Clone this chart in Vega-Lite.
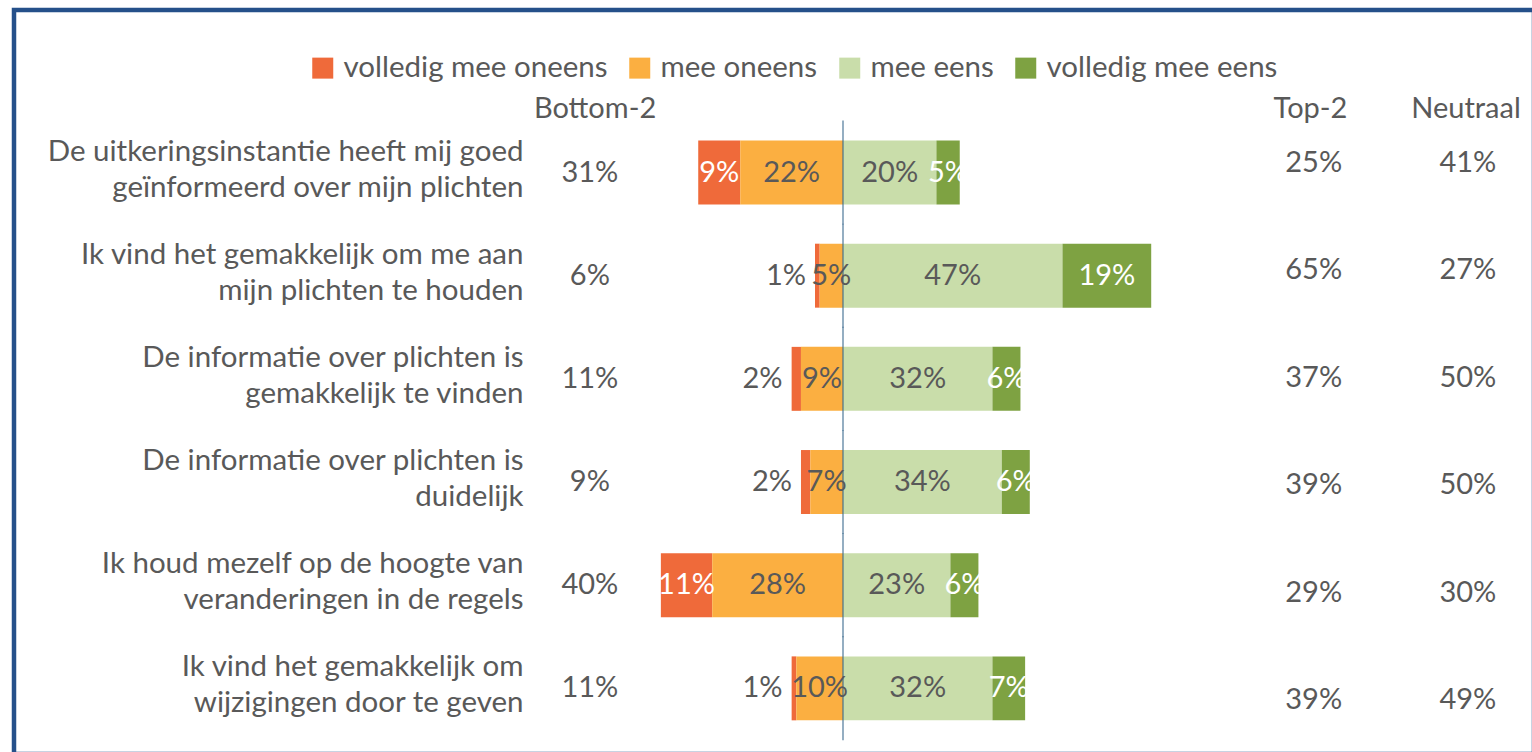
{
  "$schema": "https://vega.github.io/schema/vega-lite/v6.json",
  "autosize": "none",
  "padding": {"left": 14, "top": 10, "right": -2, "bottom": -2},
  "width": 1520,
  "height": 744,
  "background": "white",
  "config": {
    "font": "Lato",
    "view": {"stroke": "#25508A", "strokeWidth": 4.5},
    "axis": {"grid": false}
  },
  "datasets": {
    "bars": [
      {"question": "De uitkeringsinstantie heeft mij goed|geïnformeerd over mijn plichten", "cat": "volledig mee oneens", "pct": 0.09, "signed": -0.09},
      {"question": "De uitkeringsinstantie heeft mij goed|geïnformeerd over mijn plichten", "cat": "mee oneens", "pct": 0.22, "signed": -0.22},
      {"question": "De uitkeringsinstantie heeft mij goed|geïnformeerd over mijn plichten", "cat": "mee eens", "pct": 0.20, "signed": 0.20},
      {"question": "De uitkeringsinstantie heeft mij goed|geïnformeerd over mijn plichten", "cat": "volledig mee eens", "pct": 0.05, "signed": 0.05},
      {"question": "Ik vind het gemakkelijk om me aan|mijn plichten te houden", "cat": "volledig mee oneens", "pct": 0.01, "signed": -0.01},
      {"question": "Ik vind het gemakkelijk om me aan|mijn plichten te houden", "cat": "mee oneens", "pct": 0.05, "signed": -0.05},
      {"question": "Ik vind het gemakkelijk om me aan|mijn plichten te houden", "cat": "mee eens", "pct": 0.47, "signed": 0.47},
      {"question": "Ik vind het gemakkelijk om me aan|mijn plichten te houden", "cat": "volledig mee eens", "pct": 0.19, "signed": 0.19},
      {"question": "De informatie over plichten is|gemakkelijk te vinden", "cat": "volledig mee oneens", "pct": 0.02, "signed": -0.02},
      {"question": "De informatie over plichten is|gemakkelijk te vinden", "cat": "mee oneens", "pct": 0.09, "signed": -0.09},
      {"question": "De informatie over plichten is|gemakkelijk te vinden", "cat": "mee eens", "pct": 0.32, "signed": 0.32},
      {"question": "De informatie over plichten is|gemakkelijk te vinden", "cat": "volledig mee eens", "pct": 0.06, "signed": 0.06},
      {"question": "De informatie over plichten is|duidelijk", "cat": "volledig mee oneens", "pct": 0.02, "signed": -0.02},
      {"question": "De informatie over plichten is|duidelijk", "cat": "mee oneens", "pct": 0.07, "signed": -0.07},
      {"question": "De informatie over plichten is|duidelijk", "cat": "mee eens", "pct": 0.34, "signed": 0.34},
      {"question": "De informatie over plichten is|duidelijk", "cat": "volledig mee eens", "pct": 0.06, "signed": 0.06},
      {"question": "Ik houd mezelf op de hoogte van|veranderingen in de regels", "cat": "volledig mee oneens", "pct": 0.11, "signed": -0.11},
      {"question": "Ik houd mezelf op de hoogte van|veranderingen in de regels", "cat": "mee oneens", "pct": 0.28, "signed": -0.28},
      {"question": "Ik houd mezelf op de hoogte van|veranderingen in de regels", "cat": "mee eens", "pct": 0.23, "signed": 0.23},
      {"question": "Ik houd mezelf op de hoogte van|veranderingen in de regels", "cat": "volledig mee eens", "pct": 0.06, "signed": 0.06},
      {"question": "Ik vind het gemakkelijk om|wijzigingen door te geven", "cat": "volledig mee oneens", "pct": 0.01, "signed": -0.01},
      {"question": "Ik vind het gemakkelijk om|wijzigingen door te geven", "cat": "mee oneens", "pct": 0.10, "signed": -0.10},
      {"question": "Ik vind het gemakkelijk om|wijzigingen door te geven", "cat": "mee eens", "pct": 0.32, "signed": 0.32},
      {"question": "Ik vind het gemakkelijk om|wijzigingen door te geven", "cat": "volledig mee eens", "pct": 0.07, "signed": 0.07}
    ],
    "stats": [
      {"question": "De uitkeringsinstantie heeft mij goed|geïnformeerd over mijn plichten", "bottom2": 0.31, "top2": 0.25, "neutraal": 0.41},
      {"question": "Ik vind het gemakkelijk om me aan|mijn plichten te houden", "bottom2": 0.06, "top2": 0.65, "neutraal": 0.27},
      {"question": "De informatie over plichten is|gemakkelijk te vinden", "bottom2": 0.11, "top2": 0.37, "neutraal": 0.50},
      {"question": "De informatie over plichten is|duidelijk", "bottom2": 0.09, "top2": 0.39, "neutraal": 0.50},
      {"question": "Ik houd mezelf op de hoogte van|veranderingen in de regels", "bottom2": 0.40, "top2": 0.29, "neutraal": 0.30},
      {"question": "Ik vind het gemakkelijk om|wijzigingen door te geven", "bottom2": 0.11, "top2": 0.39, "neutraal": 0.49}
    ]
  },
  "resolve": {"scale": {"y": "independent"}, "axis": {"y": "independent"}},
  "layer": [
    {
      "layer": [
        {
          "data": {"name": "bars"},
          "transform": [
            {"stack": "signed", "groupby": ["question"], "sort": [{"field": "cat", "order": "ascending"}], "as": ["x0", "x1"]}
          ],
          "mark": {"type": "bar"},
          "encoding": {
            "y": {
              "field": "question", "type": "nominal", "sort": null,
              "scale": {"paddingInner": 0.38, "paddingOuter": 0.7957, "align": 0.795},
              "axis": {
                "orient": "left", "offset": -509, "title": null, "domain": false, "ticks": false, "tickSize": 0,
                "labelPadding": 0, "labelLimit": 800, "labelFontSize": 29.5, "labelColor": "#595959",
                "labelFont": "Lato", "labelLineHeight": 36, "labelAlign": "right", "labelBaseline": "middle",
                "labelOffset": -21, "labelExpr": "split(datum.value, '|')"
              }
            },
            "x": {
              "field": "x0", "type": "quantitative",
              "scale": {"domain": [-1.7752, 1.4797], "nice": false, "zero": false},
              "axis": {
                "orient": "top", "offset": -98, "title": null, "domain": false, "ticks": false, "tickSize": 0,
                "grid": false, "labelPadding": 0, "values": [-0.532, 1.0, 1.333],
                "labelExpr": "datum.value < 0 ? 'Bottom-2' : (datum.value < 1.2 ? 'Top-2' : 'Neutraal')",
                "labelFontSize": 29, "labelColor": "#595959", "labelFont": "Lato",
                "labelAlign": "center", "labelBaseline": "middle", "labelFlush": false, "labelOverlap": false
              }
            },
            "x2": {"field": "x1"},
            "color": {
              "field": "cat", "type": "nominal",
              "scale": {
                "domain": ["volledig mee oneens", "mee oneens", "mee eens", "volledig mee eens"],
                "range": ["#EF6A3A", "#FBAF41", "#C9DDAA", "#7EA242"]
              },
              "legend": {
                "orient": "none", "legendX": 294, "legendY": 43, "direction": "horizontal", "title": null,
                "symbolType": "square", "symbolSize": 441, "symbolStrokeWidth": 0,
                "labelFontSize": 29.5, "labelColor": "#595959", "labelFont": "Lato", "labelLimit": 500,
                "labelOffset": 6, "columnPadding": 17,
                "encode": {"symbols": {
                  "update": {"fill": {"signal": "datum.value === 'volledig mee eens' ? '#A0C365' : scale('color', datum.value)"}}
                }}
              }
            }
          }
        },
        {
          "data": {"name": "bars"},
          "transform": [{"filter": "datum.cat === 'mee eens'"}],
          "mark": {"type": "tick", "size": 104, "thickness": 1.5, "color": "#34658A", "orient": "vertical"},
          "encoding": {
            "y": {"field": "question", "type": "nominal", "sort": null},
            "x": {"datum": 0, "type": "quantitative"}
          }
        },
        {
          "data": {"name": "bars"},
          "transform": [
            {"stack": "signed", "groupby": ["question"], "sort": [{"field": "cat", "order": "ascending"}], "as": ["x0", "x1"]},
            {"calculate": "(datum.x0 + datum.x1) / 2", "as": "mid"},
            {"filter": "!(datum.cat === 'volledig mee oneens' && datum.pct < 0.05)"}
          ],
          "mark": {"type": "text", "fontSize": 29, "font": "Lato", "baseline": "middle", "align": "center"},
          "encoding": {
            "y": {"field": "question", "type": "nominal", "sort": null},
            "x": {"field": "mid", "type": "quantitative"},
            "text": {"field": "pct", "type": "quantitative", "format": ".0%"},
            "color": {
              "condition": {"test": "datum.cat === 'volledig mee oneens' || datum.cat === 'volledig mee eens'", "value": "white"},
              "value": "#595959"
            }
          }
        },
        {
          "data": {"name": "bars"},
          "transform": [
            {"stack": "signed", "groupby": ["question"], "sort": [{"field": "cat", "order": "ascending"}], "as": ["x0", "x1"]},
            {"filter": "datum.cat === 'volledig mee oneens' && datum.pct < 0.05"}
          ],
          "mark": {"type": "text", "fontSize": 29, "font": "Lato", "baseline": "middle", "align": "right", "dx": -9, "color": "#595959"},
          "encoding": {
            "y": {"field": "question", "type": "nominal", "sort": null},
            "x": {"field": "x1", "type": "quantitative"},
            "text": {"field": "pct", "type": "quantitative", "format": ".0%"}
          }
        },
        {
          "data": {"name": "stats"},
          "mark": {"type": "text", "fontSize": 29, "font": "Lato", "baseline": "middle", "align": "center", "color": "#595959"},
          "encoding": {
            "y": {"field": "question", "type": "nominal", "sort": null},
            "x": {"datum": -0.542, "type": "quantitative"},
            "text": {"field": "bottom2", "type": "quantitative", "format": ".0%"}
          }
        }
      ]
    },
    {
      "layer": [
        {
          "data": {"name": "stats"},
          "mark": {"type": "text", "fontSize": 29, "font": "Lato", "baseline": "middle", "align": "center", "color": "#595959"},
          "encoding": {
            "y": {
              "field": "question", "type": "nominal", "sort": null,
              "scale": {"type": "point", "padding": 0.9637, "align": 0.739},
              "axis": null
            },
            "x": {"datum": 1.008, "type": "quantitative"},
            "text": {"field": "top2", "type": "quantitative", "format": ".0%"}
          }
        },
        {
          "data": {"name": "stats"},
          "mark": {"type": "text", "fontSize": 29, "font": "Lato", "baseline": "middle", "align": "center", "color": "#595959"},
          "encoding": {
            "y": {"field": "question", "type": "nominal", "sort": null},
            "x": {"datum": 1.338, "type": "quantitative"},
            "text": {"field": "neutraal", "type": "quantitative", "format": ".0%"}
          }
        }
      ]
    }
  ]
}
